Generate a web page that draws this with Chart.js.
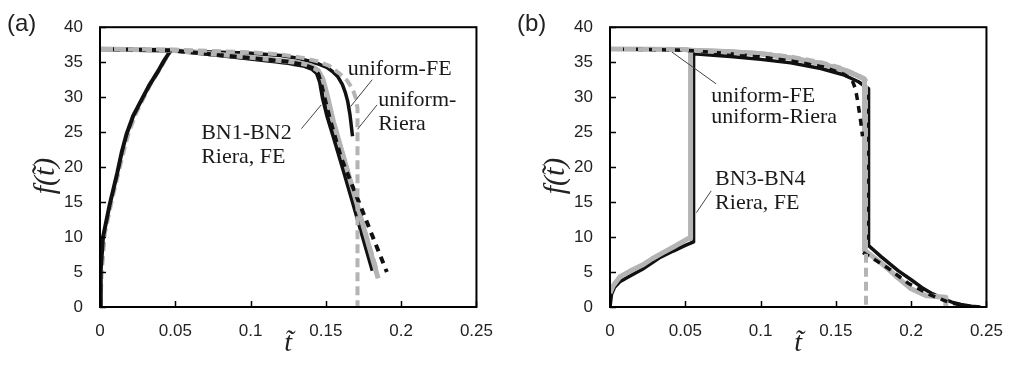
<!DOCTYPE html>
<html>
<head>
<meta charset="utf-8">
<script src="https://cdn.jsdelivr.net/npm/chart.js@4.4.1/dist/chart.umd.min.js"></script>
<style>
  html, body { margin: 0; padding: 0; background: #fff; }
  #wrap { position: relative; width: 1015px; height: 365px; }
  .panel { position: absolute; top: 0; width: 507px; height: 365px; }
  #pa { left: 0; }
  #pb { left: 510px; }
</style>
</head>
<body>
<div id="wrap">
  <div class="panel" id="pa"><canvas id="chartA"></canvas></div>
  <div class="panel" id="pb"><canvas id="chartB"></canvas></div>
</div>
<script>
// ---- data: [t, f] pairs ----

// (a)
const aUniRiera = [[0, 36.9], [0.05, 36.8], [0.1, 36.4], [0.12, 36.1], [0.135, 35.6], [0.145, 35.1], [0.152, 34.5], [0.159, 33.4], [0.164, 32.4], [0.1677, 31.2], [0.17, 29.8], [0.171, 28.4], [0.171, 0]];
const aBN2FE = [[0, 36.9], [0.047, 36.7], [0.07, 36.2], [0.1, 35.6], [0.124, 35.1], [0.136, 34.6], [0.142, 34.1], [0.145, 33.3], [0.147, 31.8], [0.149, 30], [0.153, 26.6], [0.16, 21.4], [0.1697, 16.2], [0.181, 10.1], [0.1905, 5]];
const aBN2Riera = [[0, 36.9], [0.047, 36.7], [0.1, 35.7], [0.13, 35], [0.14, 34.5], [0.145, 33.8], [0.148, 32.6], [0.151, 30.2], [0.155, 26.5], [0.163, 20.5], [0.172, 13.7], [0.1847, 4.1]];
const aUniFE = [[0, 36.8], [0.05, 36.6], [0.098, 36.3], [0.12, 35.95], [0.1305, 35.6], [0.14, 35.1], [0.1457, 34.7], [0.151, 34.2], [0.1547, 33.6], [0.158, 32.9], [0.161, 31.8], [0.163, 30.6], [0.1645, 29.4], [0.166, 27.5], [0.1677, 24.4]];
const aBN1FE = [[0, 0], [0.0005, 5.2], [0.002, 10], [0.0065, 14.7], [0.0115, 19.2], [0.0145, 22.2], [0.0176, 24.7], [0.022, 27.3], [0.028, 29.8], [0.033, 31.8], [0.038, 33.5], [0.0425, 35.2], [0.047, 36.7], [0.07, 36.2], [0.1, 35.5], [0.124, 34.9], [0.135, 34.5], [0.141, 34.0], [0.144, 33.4], [0.146, 32.2], [0.148, 29.8], [0.151, 27.2], [0.155, 24.4], [0.162, 19.3], [0.1677, 15.1], [0.174, 10.4], [0.181, 5.2]];
const aBN1Riera = [[0, 0], [0.001, 5], [0.003, 10.5], [0.008, 15.5], [0.013, 20], [0.016, 22.6], [0.019, 25], [0.024, 27.8], [0.029, 30], [0.034, 32.1], [0.039, 33.8], [0.043, 35.3], [0.047, 36.7], [0.1, 35.6], [0.14, 34.4], [0.145, 33.6], [0.148, 31.8], [0.151, 29.4], [0.157, 25], [0.165, 19], [0.175, 11.4], [0.184, 5]];

// (b)
const bUniRiera = [[0, 36.9], [0.05, 36.8], [0.1, 36.3], [0.12, 35.8], [0.14, 35], [0.152, 34.3], [0.16, 33.6], [0.166, 33], [0.17, 32.4], [0.17, 0]];
const bUniFE = [[0, 36.9], [0.05, 36.7], [0.08, 36.2], [0.098, 35.8], [0.12, 35.2], [0.142, 34.3], [0.155, 33.3], [0.159, 32.8], [0.161, 32.3], [0.163, 31.2], [0.1645, 29.4], [0.1665, 26.5], [0.1677, 24.4]];
const bBN4Riera = [[0, 36.9], [0.05, 36.8], [0.0535, 36.7], [0.08, 36.5], [0.1, 36.2], [0.12, 35.6], [0.14, 34.8], [0.155, 33.9], [0.163, 33.2], [0.169, 32.6], [0.169, 8.1], [0.18, 6.3], [0.19, 4.4], [0.2, 2.6], [0.21, 1.6], [0.223, 1.4], [0.223, 0]];
const bBN3Riera = [[0, 2], [0.002, 3], [0.0065, 4.3], [0.013, 5.1], [0.0215, 6], [0.028, 6.9], [0.0346, 7.7], [0.044, 8.8], [0.052, 9.8], [0.0535, 9.8], [0.0535, 36.7], [0.08, 36.5], [0.1, 36.2], [0.12, 35.6], [0.14, 34.8], [0.155, 33.9], [0.163, 33.2], [0.169, 32.6]];
const bBN3FE = [[0, 0], [0.001, 1.8], [0.003, 2.8], [0.0065, 3.6], [0.013, 4.4], [0.0215, 5.4], [0.0326, 7.0], [0.042, 8.0], [0.05, 8.8], [0.0555, 9.3], [0.0555, 36.2], [0.08, 35.8], [0.1, 35.4], [0.12, 34.9], [0.14, 34.1], [0.155, 33.2], [0.165, 32.2], [0.1717, 31.2], [0.1717, 8.8], [0.18, 7.2], [0.1913, 5.2], [0.2, 3.9], [0.207, 2.8], [0.214, 1.9], [0.22, 1.3], [0.227, 0.7], [0.233, 0.35], [0.24, 0.1], [0.246, 0]];
const bBN4FE = [[0.168, 7.8], [0.177, 6.6], [0.185, 5.5], [0.198, 3.4], [0.212, 1.8], [0.226, 0.6], [0.24, 0]];

// axis ticks
const tTicks = [0, 0.05, 0.1, 0.15, 0.2, 0.25];
const fTicks = [0, 5, 10, 15, 20, 25, 30, 35, 40];

// annotations: [text, t, f] (text left / middle), leaders [t1, f1, t2, f2]
const aNotes = [['uniform-FE', 0.1645, 34.0], ['uniform-', 0.1847, 29.6], ['Riera', 0.1847, 26.2], ['BN1-BN2', 0.0672, 24.8], ['Riera, FE', 0.0672, 21.4]];
const aLeaders = [[0.1808, 32.5, 0.1664, 28.65], [0.184, 28.9, 0.171, 25.4], [0.1338, 25.5, 0.1469, 28.9]];
const bNotes = [['uniform-FE', 0.0672, 30.1], ['uniform-Riera', 0.0672, 27.2], ['BN3-BN4', 0.0698, 18.3], ['Riera, FE', 0.0698, 14.9]];
const bLeaders = [[0.0411, 36.45, 0.0705, 31.9], [0.0574, 13.5, 0.0672, 16.6]];

const BLACK = '#111';
const GRAY = '#b4b4b4';

function pts(arr) { return arr.map(([t, f]) => ({ x: t, y: f })); }

function line(data, color, width, dash) {
  return {
    data: pts(data),
    showLine: true,
    borderColor: color,
    backgroundColor: color,
    borderWidth: width,
    borderDash: dash || [],
    borderCapStyle: 'butt',
    borderJoinStyle: 'round',
    pointRadius: 0,
    tension: 0
  };
}

// frame, inner ticks, axis titles, panel letter, notes
const decor = {
  id: 'decor',
  afterDraw(chart, args, opts) {
    const { ctx, chartArea: a, scales: { x, y } } = chart;
    ctx.save();
    ctx.strokeStyle = '#000';
    ctx.lineWidth = 2;
    ctx.strokeRect(a.left, a.top, a.right - a.left, a.bottom - a.top);
    ctx.lineWidth = 1.5;
    ctx.beginPath();
    tTicks.forEach(v => {
      const px = Math.round(x.getPixelForValue(v)) + 0.5;
      ctx.moveTo(px, a.bottom); ctx.lineTo(px, a.bottom - 6);
    });
    fTicks.forEach(v => {
      const py = Math.round(y.getPixelForValue(v)) + 0.5;
      ctx.moveTo(a.left, py); ctx.lineTo(a.left + 6, py);
    });
    ctx.stroke();

    ctx.fillStyle = '#222';
    ctx.textAlign = 'center';
    ctx.textBaseline = 'middle';
    ctx.font = 'italic 28px "Liberation Serif"';
    ctx.fillText('t\u0303', (a.left + a.right) / 2, 344);
    ctx.font = 'italic 30px "Liberation Serif"';
    ctx.save();
    ctx.translate(46, 176);
    ctx.rotate(-Math.PI / 2);
    ctx.fillText('f(t\u0303)', 0, 0);
    ctx.restore();

    ctx.font = '24px "Liberation Sans"';
    ctx.textAlign = 'left';
    ctx.fillText(opts.letter, 7, 24);

    ctx.strokeStyle = '#444';
    ctx.lineWidth = 1;
    ctx.beginPath();
    opts.leaders.forEach(([t1, f1, t2, f2]) => {
      ctx.moveTo(x.getPixelForValue(t1), y.getPixelForValue(f1));
      ctx.lineTo(x.getPixelForValue(t2), y.getPixelForValue(f2));
    });
    ctx.stroke();

    ctx.font = '22px "Liberation Serif"';
    ctx.fillStyle = '#1a1a1a';
    opts.notes.forEach(([txt, t, f]) => {
      ctx.fillText(txt, x.getPixelForValue(t), y.getPixelForValue(f));
    });
    ctx.restore();
  }
};

function makeChart(id, datasets, letter, notes, leaders) {
  return new Chart(document.getElementById(id), {
    type: 'scatter',
    data: { datasets },
    plugins: [decor],
    options: {
      responsive: true,
      maintainAspectRatio: false,
      animation: false,
      layout: { padding: { top: 25, right: 24, left: 0, bottom: 0 } },
      plugins: {
        legend: { display: false },
        tooltip: { enabled: false },
        decor: { letter, notes, leaders }
      },
      scales: {
        x: {
          type: 'linear', min: 0, max: 0.25,
          afterFit: s => { s.height = 58; },
          afterBuildTicks: s => { s.ticks = tTicks.map(v => ({ value: v })); },
          grid: { display: false, drawTicks: false },
          border: { display: false },
          ticks: {
            color: '#222', padding: 14, maxRotation: 0,
            font: { family: 'Liberation Sans', size: 17 },
            callback: v => String(+v.toFixed(2))
          }
        },
        y: {
          type: 'linear', min: 0, max: 40,
          afterFit: s => { s.width = 100; },
          afterBuildTicks: s => { s.ticks = fTicks.map(v => ({ value: v })); },
          grid: { display: false, drawTicks: false },
          border: { display: false },
          ticks: {
            color: '#222', padding: 17,
            font: { family: 'Liberation Sans', size: 17 }
          }
        }
      }
    }
  });
}

makeChart('chartA', [
  line(aUniRiera, GRAY, 4, [9, 5]),
  line(aBN2FE, BLACK, 4, [7, 6]),
  line(aBN2Riera, GRAY, 5),
  line(aUniFE, BLACK, 3.5),
  line(aBN1FE, BLACK, 4),
  line(aBN1Riera, GRAY, 4.5, [9, 5])
], '(a)', aNotes, aLeaders);

makeChart('chartB', [
  line(bUniRiera, GRAY, 4, [9, 5]),
  line(bUniFE, BLACK, 3.5, [7, 6]),
  line(bBN4FE, BLACK, 3.5, [7, 6]),
  line(bBN4Riera, GRAY, 5),
  line(bBN3Riera, GRAY, 5),
  line(bBN3FE, BLACK, 3.5)
], '(b)', bNotes, bLeaders);
</script>
</body>
</html>
